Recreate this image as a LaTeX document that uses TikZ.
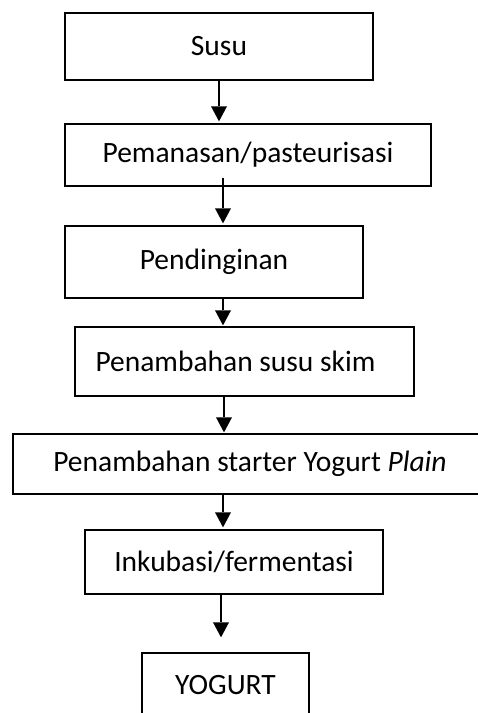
\documentclass[tikz,border=0pt]{standalone}
\usepackage{fontspec}
\setmainfont{Carlito}
\usetikzlibrary{arrows.meta}
\begin{document}
\begin{tikzpicture}[x=1pt,y=1pt,
  stepbox/.style={draw=black, line width=1.3pt, rectangle, inner sep=0pt, font=\fontsize{29.5}{35}\selectfont},
  arr/.style={line width=1.3pt, -{Triangle[width=16pt,length=15pt,line width=0pt,fill=black]}}]
\useasboundingbox (0,0) rectangle (478,-713);
\clip (0,0) rectangle (478,-713);
\node[stepbox, minimum width=308pt, minimum height=67pt] (b1) at (219,-46.5) {Susu};
\node[stepbox, minimum width=366pt, minimum height=62pt] (b2) at (248,-155) {Pemanasan/pasteurisasi};
\node[stepbox, minimum width=298pt, minimum height=72pt] (b3) at (214,-262) {Pendinginan};
\node[stepbox, minimum width=339pt, minimum height=69pt] (b4) at (244.5,-361.5) {Penambahan susu skim\hspace*{18pt}};
\node[stepbox, minimum width=530pt, minimum height=60pt] (b5) at (278,-464) {Penambahan starter Yogurt \textit{Plain}\hspace*{56pt}};
\node[stepbox, minimum width=298pt, minimum height=64pt] (b6) at (234,-562) {Inkubasi/fermentasi};
\node[stepbox, minimum width=167pt, minimum height=64pt] (b7) at (225.5,-685) {YOGURT};
\draw[arr] (b1.south) -- ([xshift=-29pt,yshift=2pt]b2.north);
\draw[arr] ([xshift=-25pt,yshift=9pt]b2.south) -- ([xshift=9pt,yshift=2pt]b3.north);
\draw[arr] ([xshift=9pt]b3.south) -- ([xshift=-21.5pt,yshift=1pt]b4.north);
\draw[arr] ([xshift=-20.5pt]b4.south) -- ([xshift=-54pt,yshift=1pt]b5.north);
\draw[arr] ([xshift=-55pt]b5.south) -- ([xshift=-11pt,yshift=2pt]b6.north);
\draw[arr] ([xshift=-13pt]b6.south) -- ([xshift=-4.5pt,yshift=15pt]b7.north);
\end{tikzpicture}
\end{document}
